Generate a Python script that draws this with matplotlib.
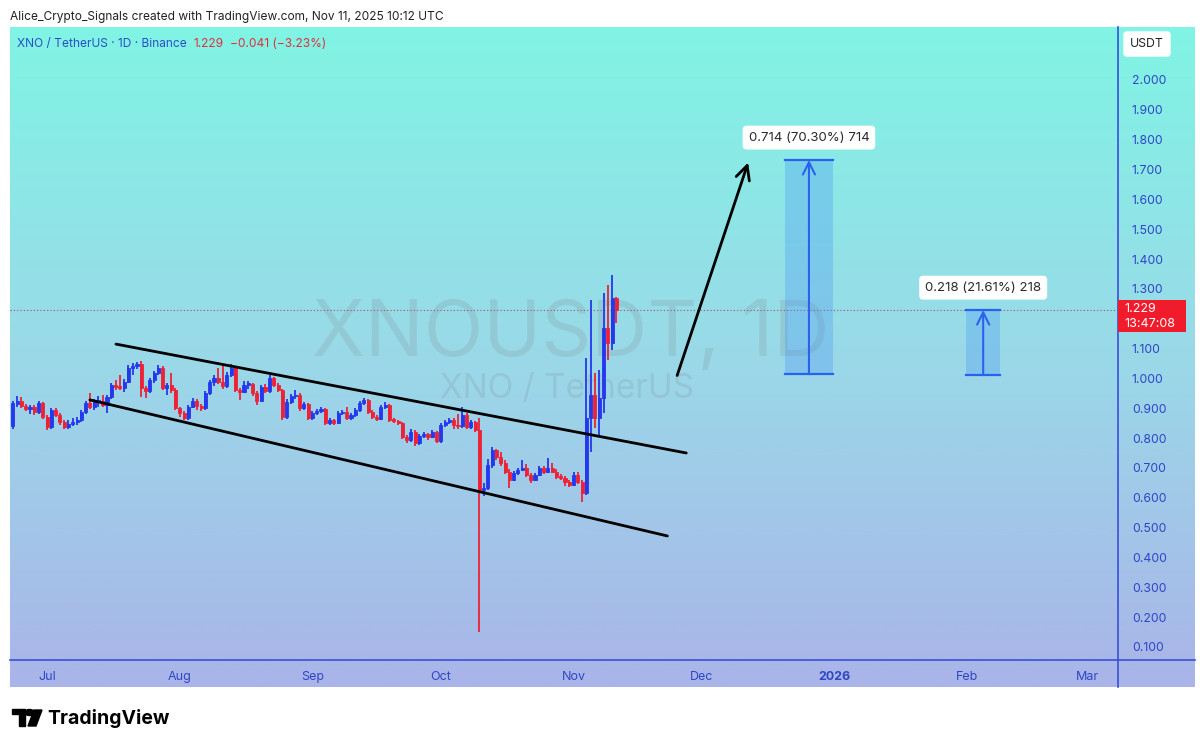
import numpy as np
import pandas as pd
import matplotlib
matplotlib.use('Agg')
import matplotlib.pyplot as plt
import matplotlib.dates as mdates
from matplotlib.patches import Rectangle, Circle, Polygon
from matplotlib.colors import LinearSegmentedColormap

# daily candles XNO/USDT, starting 2025-06-23
start_day = '2025-06-23'
opens = [
    0.841, 0.915, 0.925, 0.908, 0.898, 0.905, 0.888, 0.918, 0.871, 0.838,
    0.894, 0.878, 0.854, 0.838, 0.848, 0.854, 0.861, 0.888, 0.918, 0.905,
    0.921, 0.925, 0.911, 0.938, 0.978, 0.971, 0.968, 0.988, 1.035, 1.041,
    1.048, 0.968, 0.958, 0.994, 1.018, 1.035, 0.968, 0.978, 0.961, 0.901,
    0.884, 0.868, 0.905, 0.925, 0.908, 0.901, 0.951, 0.988, 1.001, 0.988,
    0.975, 1.011, 1.035, 0.961, 0.955, 0.978, 0.981, 0.951, 0.925, 0.971,
    0.958, 1.001, 0.978, 0.961, 0.871, 0.921, 0.941, 0.945, 0.901, 0.914,
    0.868, 0.884, 0.891, 0.898, 0.851, 0.861, 0.851, 0.884, 0.888, 0.868,
    0.878, 0.894, 0.918, 0.928, 0.888, 0.871, 0.865, 0.905, 0.911, 0.861,
    0.858, 0.851, 0.804, 0.794, 0.821, 0.784, 0.807, 0.814, 0.804, 0.821,
    0.791, 0.844, 0.854, 0.861, 0.844, 0.840, 0.878, 0.838, 0.854, 0.827,
    0.626, 0.632, 0.710, 0.760, 0.737, 0.717, 0.687, 0.660, 0.684, 0.693,
    0.700, 0.677, 0.660, 0.677, 0.700, 0.687, 0.700, 0.687, 0.670, 0.667,
    0.653, 0.643, 0.677, 0.653, 0.616, 0.868, 0.944, 0.868, 0.934, 1.169,
    1.118, 1.270]
highs = [
    0.925, 0.940, 0.938, 0.915, 0.912, 0.910, 0.925, 0.922, 0.878, 0.900,
    0.902, 0.885, 0.860, 0.862, 0.868, 0.870, 0.895, 0.925, 0.951, 0.930,
    0.940, 0.945, 0.945, 0.985, 0.995, 1.011, 0.998, 1.045, 1.050, 1.055,
    1.058, 0.975, 1.000, 1.025, 1.045, 1.042, 0.985, 1.017, 0.968, 0.905,
    0.890, 0.910, 0.935, 0.930, 0.915, 0.958, 0.995, 1.010, 1.035, 1.045,
    1.020, 1.048, 1.040, 0.968, 0.990, 0.992, 0.985, 0.958, 0.978, 0.980,
    1.012, 1.005, 0.985, 0.965, 0.930, 0.948, 0.960, 0.950, 0.922, 0.918,
    0.892, 0.898, 0.905, 0.902, 0.868, 0.865, 0.890, 0.895, 0.905, 0.885,
    0.900, 0.925, 0.935, 0.932, 0.895, 0.878, 0.912, 0.920, 0.915, 0.868,
    0.862, 0.855, 0.810, 0.830, 0.826, 0.815, 0.822, 0.818, 0.828, 0.825,
    0.850, 0.862, 0.868, 0.868, 0.880, 0.905, 0.885, 0.860, 0.858, 0.868,
    0.650, 0.730, 0.770, 0.765, 0.755, 0.725, 0.695, 0.690, 0.700, 0.727,
    0.712, 0.682, 0.682, 0.705, 0.705, 0.733, 0.718, 0.695, 0.678, 0.672,
    0.660, 0.685, 0.685, 0.660, 1.067, 1.263, 1.017, 1.028, 1.286, 1.313,
    1.347, 1.272]
lows = [
    0.832, 0.905, 0.900, 0.890, 0.880, 0.878, 0.882, 0.865, 0.828, 0.832,
    0.872, 0.845, 0.830, 0.832, 0.840, 0.845, 0.855, 0.880, 0.898, 0.895,
    0.905, 0.905, 0.884, 0.932, 0.962, 0.960, 0.955, 0.985, 1.010, 1.030,
    0.938, 0.935, 0.950, 0.985, 1.010, 0.962, 0.944, 0.952, 0.895, 0.870,
    0.860, 0.862, 0.900, 0.895, 0.890, 0.895, 0.945, 0.975, 0.980, 0.965,
    0.968, 1.005, 0.955, 0.928, 0.950, 0.965, 0.940, 0.911, 0.920, 0.950,
    0.950, 0.972, 0.955, 0.862, 0.865, 0.915, 0.930, 0.890, 0.895, 0.860,
    0.862, 0.878, 0.885, 0.845, 0.845, 0.845, 0.848, 0.878, 0.862, 0.862,
    0.870, 0.888, 0.910, 0.882, 0.865, 0.858, 0.860, 0.898, 0.855, 0.850,
    0.845, 0.798, 0.785, 0.788, 0.775, 0.778, 0.800, 0.795, 0.800, 0.782,
    0.785, 0.838, 0.848, 0.830, 0.832, 0.835, 0.832, 0.830, 0.820, 0.150,
    0.605, 0.625, 0.700, 0.725, 0.705, 0.680, 0.633, 0.655, 0.676, 0.688,
    0.670, 0.648, 0.655, 0.672, 0.680, 0.682, 0.682, 0.662, 0.660, 0.638,
    0.635, 0.640, 0.645, 0.585, 0.608, 0.753, 0.833, 0.810, 0.884, 1.061,
    1.095, 1.184]
closes = [
    0.918, 0.925, 0.908, 0.898, 0.905, 0.888, 0.918, 0.871, 0.838, 0.894,
    0.878, 0.854, 0.838, 0.848, 0.854, 0.861, 0.888, 0.918, 0.905, 0.921,
    0.925, 0.911, 0.938, 0.978, 0.971, 0.968, 0.988, 1.035, 1.041, 1.048,
    0.968, 0.958, 0.994, 1.018, 1.035, 0.968, 0.978, 0.961, 0.901, 0.884,
    0.868, 0.905, 0.925, 0.908, 0.901, 0.951, 0.988, 1.001, 0.988, 0.975,
    1.011, 1.035, 0.961, 0.955, 0.978, 0.981, 0.951, 0.925, 0.971, 0.958,
    1.001, 0.978, 0.961, 0.871, 0.921, 0.941, 0.945, 0.901, 0.914, 0.868,
    0.884, 0.891, 0.898, 0.851, 0.861, 0.851, 0.884, 0.888, 0.868, 0.878,
    0.894, 0.918, 0.928, 0.888, 0.871, 0.865, 0.905, 0.911, 0.861, 0.858,
    0.851, 0.804, 0.794, 0.821, 0.784, 0.807, 0.814, 0.804, 0.821, 0.791,
    0.844, 0.854, 0.861, 0.844, 0.840, 0.878, 0.838, 0.854, 0.827, 0.626,
    0.632, 0.710, 0.760, 0.737, 0.717, 0.687, 0.660, 0.684, 0.693, 0.700,
    0.677, 0.660, 0.677, 0.700, 0.687, 0.700, 0.687, 0.670, 0.667, 0.653,
    0.643, 0.677, 0.653, 0.616, 0.868, 0.944, 0.868, 0.934, 1.169, 1.118,
    1.270, 1.229]

# drawings on the chart (date, price)
channel_upper = [('2025-07-17 02:00', 1.115), ('2025-11-27 08:00', 0.750)]
channel_lower = [('2025-07-11', 0.928), ('2025-11-22 22:00', 0.472)]
big_arrow = [('2025-11-25', 1.001), ('2025-12-12', 1.732)]
measure1 = ('2025-12-20 10:00', '2025-12-31 14:00', 1.014, 1.732, '0.714 (70.30%) 714')
measure2 = ('2026-01-31 17:00', '2026-02-08 17:00', 1.011, 1.229, '0.218 (21.61%) 218')

last_price = 1.229
price_ticks = [0.1, 0.2, 0.3, 0.4, 0.5, 0.6, 0.7, 0.8, 0.9, 1.0, 1.1, 1.3,
               1.4, 1.5, 1.6, 1.7, 1.8, 1.9, 2.0]
month_ticks = ['2025-07-01', '2025-08-01', '2025-09-01', '2025-10-01', '2025-11-01',
               '2025-12-01', '2026-01-01', '2026-02-01', '2026-03-01']
month_labels = ['Jul', 'Aug', 'Sep', 'Oct', 'Nov', 'Dec', '2026', 'Feb', 'Mar']

W, H = 1200, 747
BLUE_TXT = '#2f45c8'
UP = '#2438ee'
DOWN = '#ee2236'


def fx(x):
    return x / W


def fy(y):
    return 1 - y / H


fig = plt.figure(figsize=(12, 7.47), dpi=100)
fig.patch.set_facecolor('white')

# gradient background of the chart panel (chart + both scales)
bg = fig.add_axes([fx(10), fy(687), fx(1185), (687 - 27) / H])
cmap = LinearSegmentedColormap.from_list('bg', ['#80f4e4', '#9ad9e8', '#aab4e8'])
bg.imshow(np.linspace(0, 1, 256).reshape(-1, 1), aspect='auto', cmap=cmap,
          extent=[0, 1, 0, 1])
bg.set_axis_off()

ax = fig.add_axes([fx(10), fy(660), (1118 - 10) / W, (660 - 27) / H])
ax.patch.set_alpha(0)

dates = pd.date_range(start_day, periods=len(closes))
xd = mdates.date2num(dates)
o = np.array(opens)
c = np.array(closes)
h = np.array(highs)
l = np.array(lows)
cols = np.where(c >= o, UP, DOWN)

ax.vlines(xd, l, h, color=cols, linewidth=1.3, zorder=3)
ax.bar(xd, np.maximum(np.abs(c - o), 0.005), bottom=np.minimum(o, c), width=0.72,
       color=cols, edgecolor=cols, linewidth=0.6, zorder=4)

# watermark
ax.text(0.506, 0.512, 'XNOUSDT, 1D', transform=ax.transAxes, ha='center', va='center',
        fontsize=56, color='#7f8f99', alpha=0.22, family='Inter', zorder=1)
ax.text(0.503, 0.428, 'XNO / TetherUS', transform=ax.transAxes, ha='center', va='center',
        fontsize=24, color='#7f8f99', alpha=0.22, family='Inter', zorder=1)

# last price dotted line
ax.axhline(last_price, color='#a0506a', linestyle=(0, (1, 2)), linewidth=0.8, zorder=2)

# trend channel
for seg in (channel_upper, channel_lower):
    ax.plot([mdates.datestr2num(seg[0][0]), mdates.datestr2num(seg[1][0])],
            [seg[0][1], seg[1][1]], color='black', linewidth=2, zorder=5,
            solid_capstyle='round')

ax.annotate('', xy=(mdates.datestr2num(big_arrow[1][0]), big_arrow[1][1]),
            xytext=(mdates.datestr2num(big_arrow[0][0]), big_arrow[0][1]),
            arrowprops=dict(arrowstyle='->', color='black', lw=2, mutation_scale=25),
            zorder=5)

# price range measurements
for d0, d1, p0, p1, txt in (measure1, measure2):
    x0 = mdates.datestr2num(d0)
    x1 = mdates.datestr2num(d1)
    xm = (x0 + x1) / 2
    ax.add_patch(Rectangle((x0, p0), x1 - x0, p1 - p0, facecolor='#3f8cf5',
                           alpha=0.28, linewidth=0, zorder=3))
    ax.plot([x0, x1], [p0, p0], color='#2a62f0', lw=1.6, zorder=4)
    ax.plot([x0, x1], [p1, p1], color='#2a62f0', lw=1.6, zorder=4)
    ax.annotate('', xy=(xm, p1), xytext=(xm, p0),
                arrowprops=dict(arrowstyle='->', color='#2a62f0', lw=1.5,
                                mutation_scale=22, shrinkA=0, shrinkB=0), zorder=4)
    ax.text(xm, p1 + 0.075, txt, ha='center', va='center', fontsize=9.5,
            color='#2a2a2a', family='Inter', zorder=6,
            bbox=dict(boxstyle='round,pad=0.45,rounding_size=0.3', fc='white',
                      ec='none'))

ax.set_xlim(mdates.datestr2num('2025-06-22 08:00'), mdates.datestr2num('2026-03-08 05:00'))
ax.set_ylim(0.0563, 2.1776)

for sp in ax.spines.values():
    sp.set_visible(False)

ax.yaxis.tick_right()
ax.set_yticks(price_ticks)
ax.set_yticklabels([f'{v:.3f}' for v in price_ticks], fontsize=8.8, color=BLUE_TXT,
                   family='Inter')
ax.set_xticks([mdates.datestr2num(d) for d in month_ticks])
ax.set_xticklabels(month_labels, fontsize=9, color=BLUE_TXT, family='Inter')
for lab in ax.get_xticklabels():
    if lab.get_text() == '2026':
        lab.set_fontweight('bold')
ax.tick_params(axis='both', length=0)
ax.tick_params(axis='y', pad=10)
ax.tick_params(axis='x', pad=8)

# scale borders
fig.add_artist(plt.Line2D([fx(10), fx(1195)], [fy(660), fy(660)], color='#3a4fd8', lw=1.2))
fig.add_artist(plt.Line2D([fx(1118), fx(1118)], [fy(27), fy(687)], color='#3a4fd8', lw=1.2))

# last price tag
fig.add_artist(Rectangle((fx(1118), fy(332)), fx(68), (332 - 300) / H,
                         facecolor='#f01c2c', edgecolor='none', zorder=10))
fig.text(fx(1124), fy(309), '1.229', color='white', fontsize=9, va='center',
         family='Inter', zorder=11)
fig.text(fx(1124), fy(324), '13:47:08', color='white', fontsize=9, va='center',
         family='Inter', zorder=11)

# currency label
fig.text(fx(1147), fy(44), 'USDT', ha='center', va='center', fontsize=8.8,
         color='#222222', family='Inter',
         bbox=dict(boxstyle='round,pad=0.55,rounding_size=0.3', fc='white', ec='none'))

# header / legend
fig.text(fx(10), fy(17), 'Alice_Crypto_Signals created with TradingView.com, Nov 11, 2025 10:12 UTC',
         fontsize=8.6, color='#222222', va='center', family='Inter')
fig.text(fx(17), fy(44), 'XNO / TetherUS · 1D · Binance', fontsize=8.6,
         color='#2a50c8', va='center', family='Inter')
fig.text(fx(193), fy(44), '1.229', fontsize=8.6, color='#e0303a', va='center',
         family='Inter')
fig.text(fx(230), fy(44), '−0.041 (−3.23%)', fontsize=8.6, color='#e0303a',
         va='center', family='Inter')

# TradingView logo
fig.add_artist(Rectangle((fx(12), fy(714)), fx(13), 5 / H, color='black'))
fig.add_artist(Rectangle((fx(19), fy(726)), fx(6), 16 / H, color='black'))
fig.add_artist(Circle((fx(29.5), fy(712.5)), 3 / H, color='black',
                      transform=fig.transFigure))
fig.add_artist(Polygon([(fx(34), fy(710)), (fx(42), fy(710)), (fx(36), fy(726)),
                        (fx(28), fy(726))], closed=True, color='black'))
fig.text(fx(47), fy(718), 'TradingView', fontsize=14, fontweight='bold',
         color='black', va='center', family='Inter')

fig.savefig('out.png', dpi=100)
